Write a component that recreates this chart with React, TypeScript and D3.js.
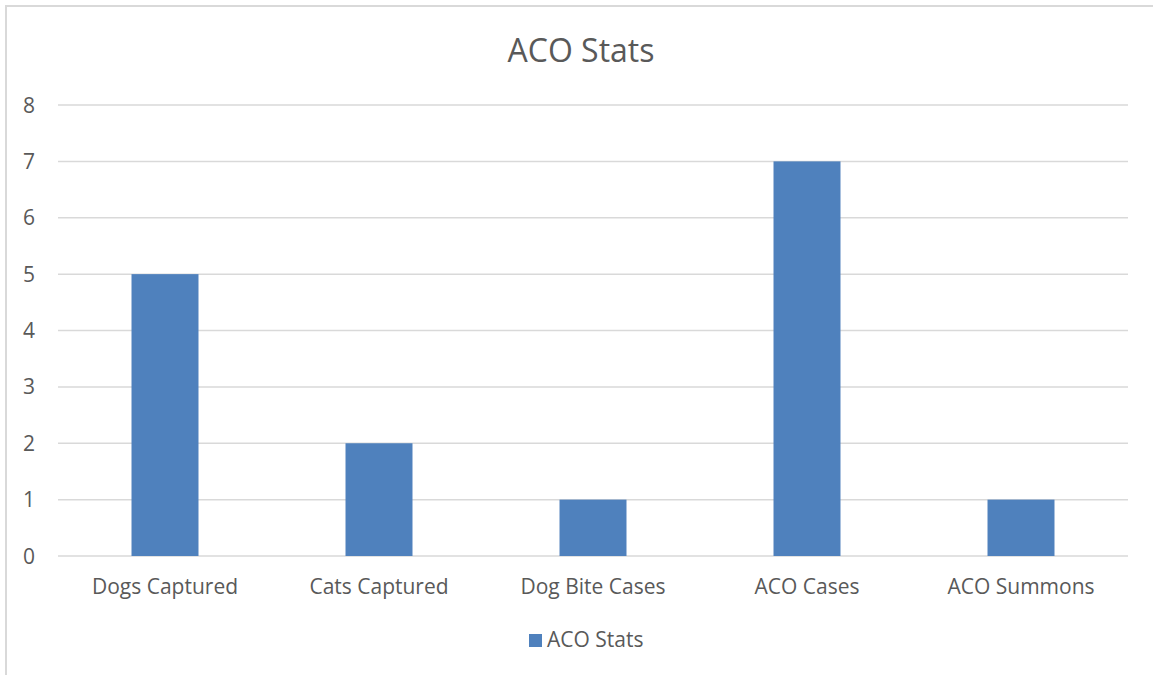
import React from "react";
import * as d3 from "d3";

const categories = ["Dogs Captured", "Cats Captured", "Dog Bite Cases", "ACO Cases", "ACO Summons"];
const values = [5, 2, 1, 7, 1];
const yTicks = [0, 1, 2, 3, 4, 5, 6, 7, 8];
const seriesName = "ACO Stats";
const title = "ACO Stats";

const W = 1153;
const H = 675;
const FONT = "'Open Sans', 'Liberation Sans', sans-serif";
const TEXT = "#595959";
const BAR = "#4f81bd";
const GRID = "#d9d9d9";

export default function App() {
  const x = d3.scaleBand<string>().domain(categories).range([58, 1128]).paddingInner(0.687).paddingOuter(0.3435);
  const y = d3.scaleLinear().domain([0, 8]).range([556, 105]);
  return (
    <svg width={W} height={H} style={{ position: "absolute", left: 0, top: 0, display: "block", background: "#fff" }}>
      <rect x={6} y={6} width={W} height={H} fill="#fff" stroke={GRID} strokeWidth={2} />
      <text x={581} y={62} textAnchor="middle" fontFamily={FONT} fontSize={32} fill={TEXT}>{title}</text>
      {yTicks.map((t) => (
        <g key={t}>
          <line x1={58} x2={1128} y1={y(t)} y2={y(t)} stroke={GRID} strokeWidth={1.5} />
          <text x={35} y={y(t) + 7.5} textAnchor="end" fontFamily={FONT} fontSize={21} fill={TEXT}>{t}</text>
        </g>
      ))}
      {categories.map((c, i) => (
        <g key={c}>
          <rect x={x(c)} y={y(values[i])} width={x.bandwidth()} height={y(0) - y(values[i])} fill={BAR} />
          <text x={(x(c) as number) + x.bandwidth() / 2} y={594} textAnchor="middle" fontFamily={FONT} fontSize={21} fill={TEXT}>{c}</text>
        </g>
      ))}
      <rect x={529} y={634} width={13} height={13} fill={BAR} />
      <text x={547} y={647} fontFamily={FONT} fontSize={21} fill={TEXT}>{seriesName}</text>
    </svg>
  );
}
